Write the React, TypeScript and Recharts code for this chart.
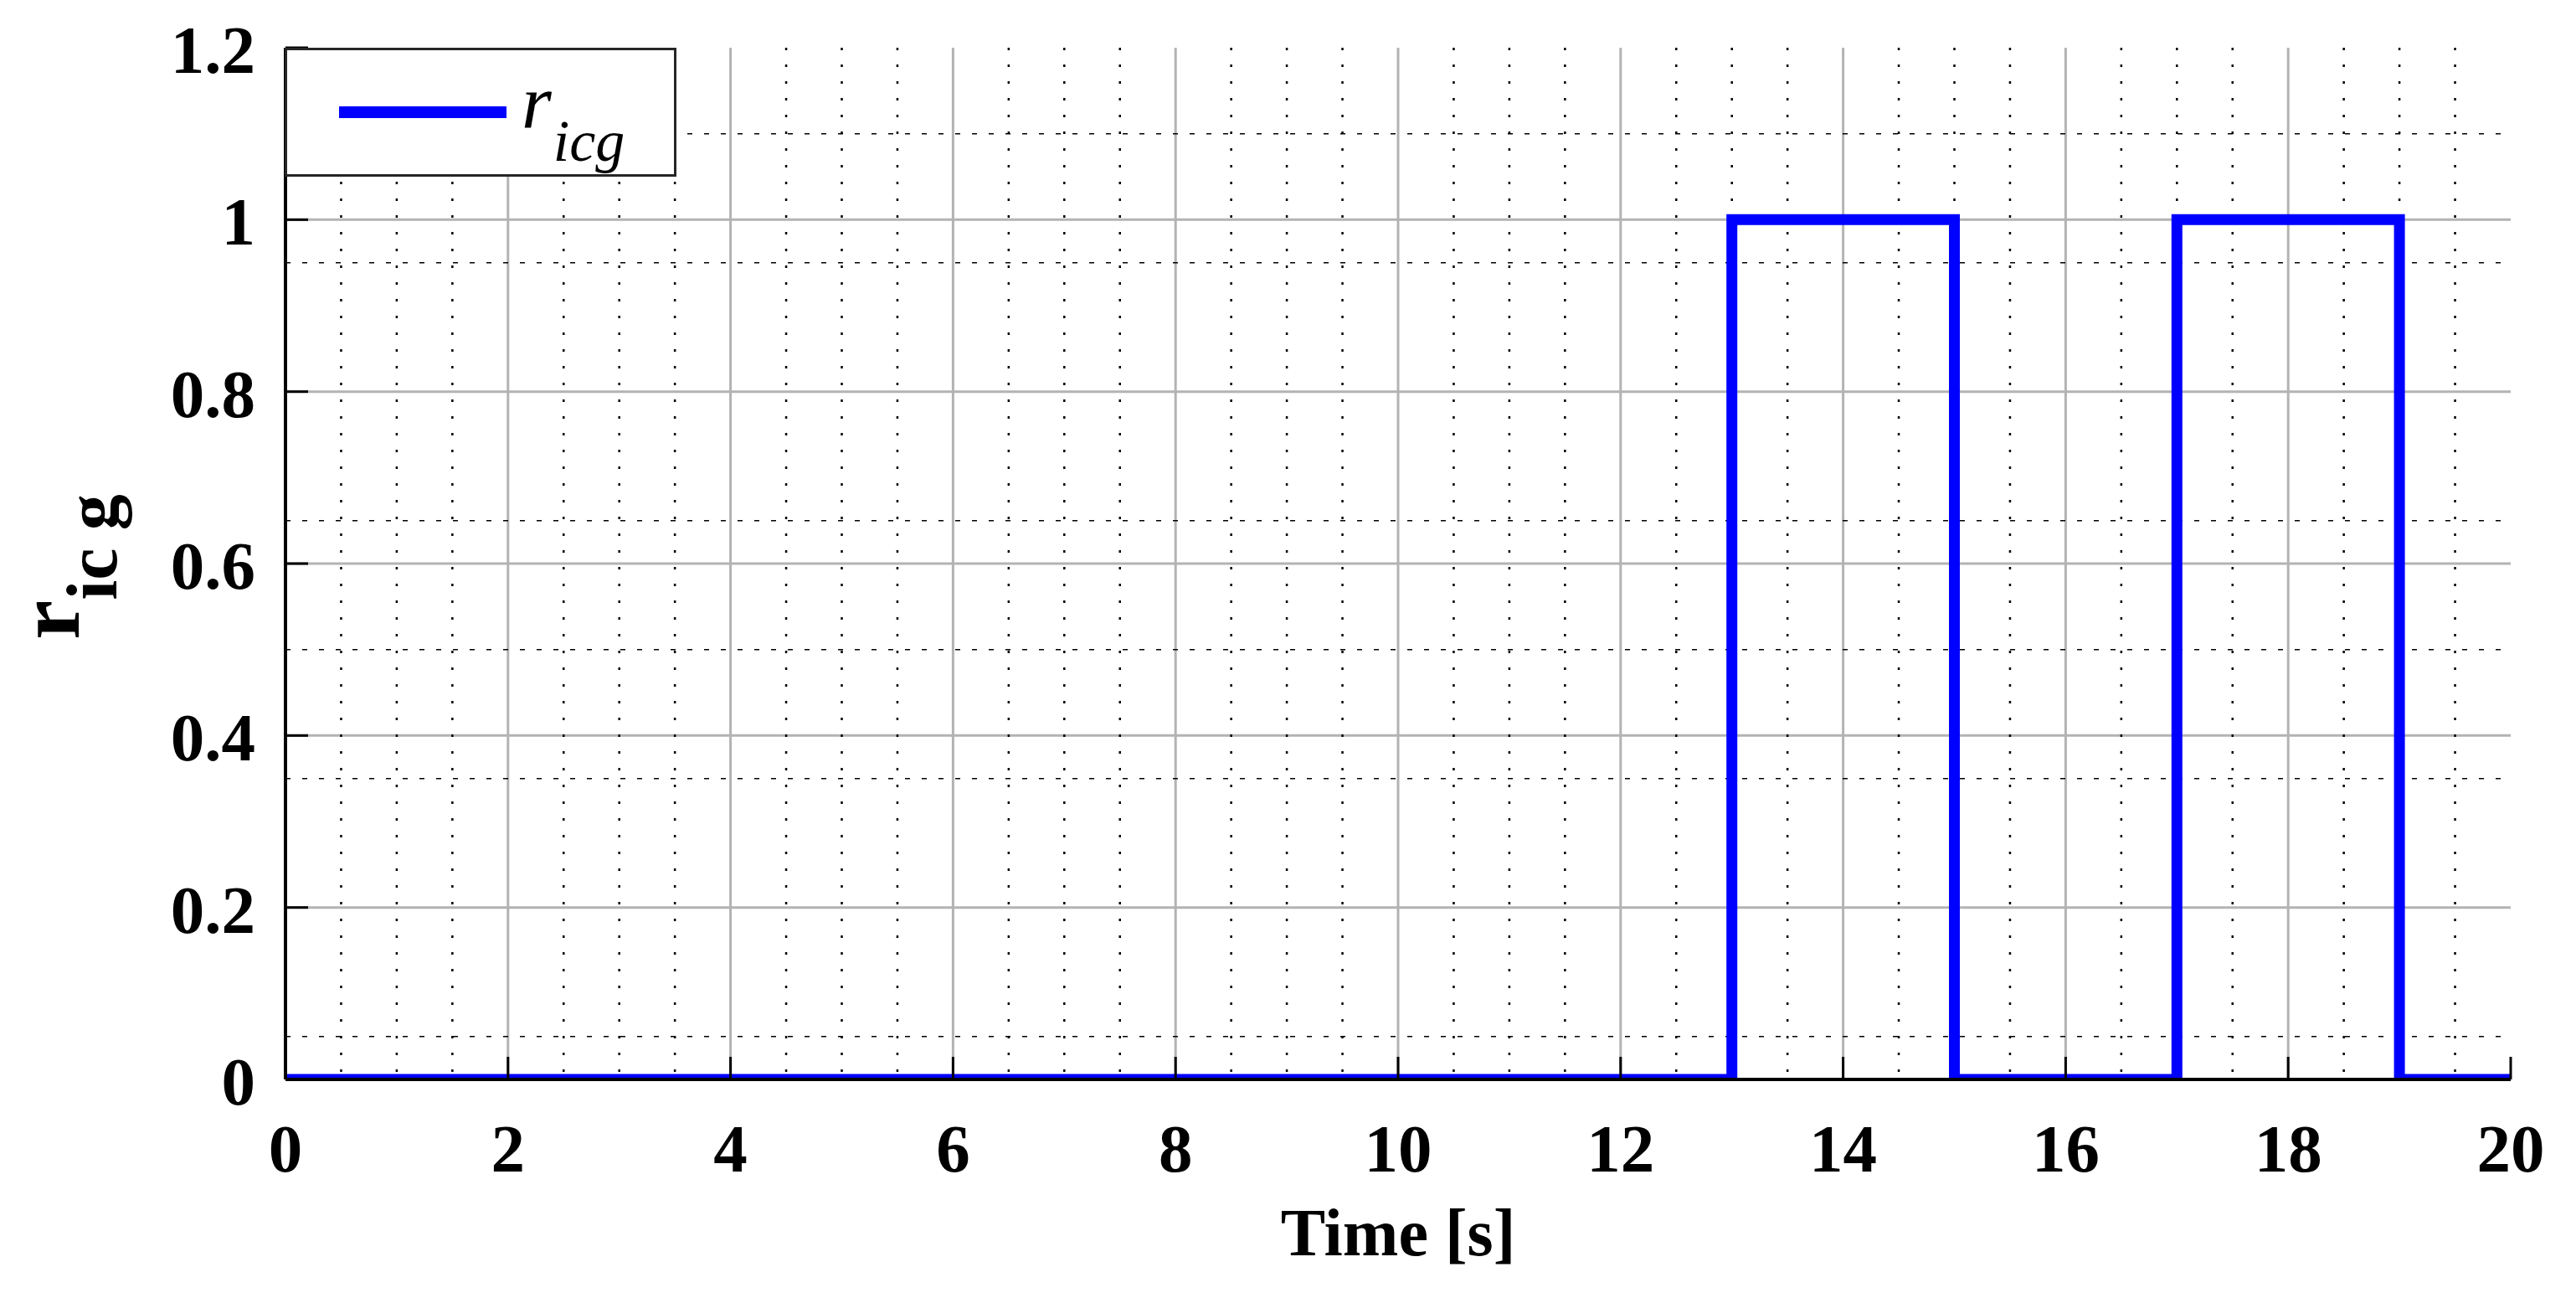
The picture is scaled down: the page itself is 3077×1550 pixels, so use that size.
import React from 'react';
import { LineChart, Line, XAxis, YAxis, CartesianGrid, Legend, Label } from 'recharts';

// Step signal r_icg over time
const timePoints = [0, 13, 15, 17, 19, 20];
const ricgValues = [0, 1, 0, 1, 0, 0];

const xTicks = [0, 2, 4, 6, 8, 10, 12, 14, 16, 18, 20];
const yTicks = [0, 0.2, 0.4, 0.6, 0.8, 1, 1.2];
const xMajorGrid = [2, 4, 6, 8, 10, 12, 14, 16, 18];
const yMajorGrid = [0.2, 0.4, 0.6, 0.8, 1];
const xMinorGrid = [0.5, 1, 1.5, 2.5, 3, 3.5, 4.5, 5, 5.5, 6.5, 7, 7.5, 8.5, 9, 9.5, 10.5, 11, 11.5, 12.5, 13, 13.5, 14.5, 15, 15.5, 16.5, 17, 17.5, 18.5, 19, 19.5];
const yMinorGrid = [0.05, 0.35, 0.5, 0.65, 0.95, 1.1];

const data = timePoints.map((t, i) => ({ t, v: ricgValues[i] }));

const FONT = '"Liberation Serif", "Times New Roman", serif';
const TICK_LEN = 27;

const BottomTick = (props: any) => {
  const { x, y, payload } = props;
  return (
    <g>
      <line x1={x} y1={y} x2={x} y2={y - TICK_LEN} stroke="#000" strokeWidth={3} />
      <text x={x} y={y + 110} textAnchor="middle" fontFamily={FONT} fontWeight="bold" fontSize={81} fill="#000">
        {String(payload.value)}
      </text>
    </g>
  );
};

const TopTick = (props: any) => {
  const { x, y } = props;
  return <line x1={x} y1={y} x2={x} y2={y + TICK_LEN} stroke="#000" strokeWidth={3} />;
};

const LeftTick = (props: any) => {
  const { x, y, payload } = props;
  return (
    <g>
      <line x1={x} y1={y} x2={x + TICK_LEN} y2={y} stroke="#000" strokeWidth={3} />
      <text x={x - 36} y={y + 30} textAnchor="end" fontFamily={FONT} fontWeight="bold" fontSize={81} fill="#000">
        {String(payload.value)}
      </text>
    </g>
  );
};

const RightTick = (props: any) => {
  const { x, y } = props;
  return <line x1={x} y1={y} x2={x - TICK_LEN} y2={y} stroke="#000" strokeWidth={3} />;
};

const LegendBox = () => (
  <div
    style={{
      boxSizing: 'border-box',
      width: 468,
      height: 154,
      border: '3px solid #262626',
      background: '#fff',
    }}
  >
    <svg width={462} height={148} style={{ display: 'block' }}>
      <line x1={62} y1={74} x2={262} y2={74} stroke="#0000ff" strokeWidth={14} />
      <text x={280} y={92} fontFamily={FONT} fontStyle="italic" fontSize={92} fill="#000">
        <tspan>r</tspan>
        <tspan fontSize={70} dy={40} dx={2}>icg</tspan>
      </text>
    </svg>
  </div>
);

const YLabel = (props: any) => {
  const vb = props.viewBox || { x: 0, y: 57, width: 341, height: 1232 };
  const cy = vb.y + vb.height / 2 + 4;
  return (
    <text
      transform={`translate(94, ${cy}) rotate(-90)`}
      textAnchor="middle"
      fontFamily={FONT}
      fontWeight="bold"
      fill="#000"
    >
      <tspan fontSize={106}>r</tspan>
      <tspan fontSize={86} dy={45}>ic g</tspan>
    </text>
  );
};

const XLabel = (props: any) => {
  const vb = props.viewBox || { x: 341, y: 1289, width: 2658, height: 100 };
  return (
    <text x={vb.x + vb.width / 2} y={1499} textAnchor="middle" fontFamily={FONT} fontWeight="bold" fontSize={80} fill="#000">
      Time [s]
    </text>
  );
};

export default function App() {
  return (
    <div style={{ position: 'absolute', left: 0, top: 0, width: 3077, height: 1550, background: '#fff' }}>
      <LineChart
        width={3077}
        height={1550}
        data={data}
        margin={{ top: 57, right: 78, bottom: 161, left: 0 }}
      >
        <CartesianGrid
          stroke="#b3b3b3"
          strokeWidth={3}
          verticalValues={xMajorGrid}
          horizontalValues={yMajorGrid}
        />
        <CartesianGrid
          stroke="#000"
          strokeWidth={2.5}
          strokeDasharray="3 17"
          horizontal={false}
          verticalValues={xMinorGrid}
        />
        <CartesianGrid
          stroke="#000"
          strokeWidth={1.5}
          strokeDasharray="6 14"
          vertical={false}
          horizontalValues={yMinorGrid}
        />
        <XAxis
          dataKey="t"
          type="number"
          domain={[0, 20]}
          ticks={xTicks}
          interval={0}
          allowDataOverflow
          height={100}
          tickSize={0}
          tickMargin={0}
          tickLine={false}
          axisLine={{ stroke: '#000', strokeWidth: 4 }}
          tick={BottomTick}
        >
          <Label content={XLabel} />
        </XAxis>
        <XAxis
          xAxisId="top"
          orientation="top"
          type="number"
          domain={[0, 20]}
          ticks={xTicks}
          interval={0}
          allowDataOverflow
          height={0}
          tickSize={0}
          tickMargin={0}
          tickLine={false}
          axisLine={{ stroke: '#000', strokeWidth: 4 }}
          tick={TopTick}
        />
        <YAxis
          type="number"
          domain={[0, 1.2]}
          ticks={yTicks}
          interval={0}
          allowDataOverflow
          width={341}
          tickSize={0}
          tickMargin={0}
          tickLine={false}
          axisLine={{ stroke: '#000', strokeWidth: 4 }}
          tick={LeftTick}
        >
          <Label content={YLabel} />
        </YAxis>
        <YAxis
          yAxisId="right"
          orientation="right"
          type="number"
          domain={[0, 1.2]}
          ticks={yTicks}
          interval={0}
          allowDataOverflow
          width={0}
          tickSize={0}
          tickMargin={0}
          tickLine={false}
          axisLine={{ stroke: '#000', strokeWidth: 4 }}
          tick={RightTick}
        />
        <Line
          type="stepAfter"
          dataKey="v"
          stroke="#0000ff"
          strokeWidth={13}
          strokeLinejoin="miter"
          strokeLinecap="butt"
          dot={false}
          activeDot={false}
          isAnimationActive={false}
          legendType="line"
          name="r_icg"
        />
        <Legend
          layout="horizontal"
          verticalAlign="middle"
          align="center"
          content={LegendBox}
          wrapperStyle={{ left: 340, top: 57, width: 468, height: 154 }}
        />
      </LineChart>
    </div>
  );
}
